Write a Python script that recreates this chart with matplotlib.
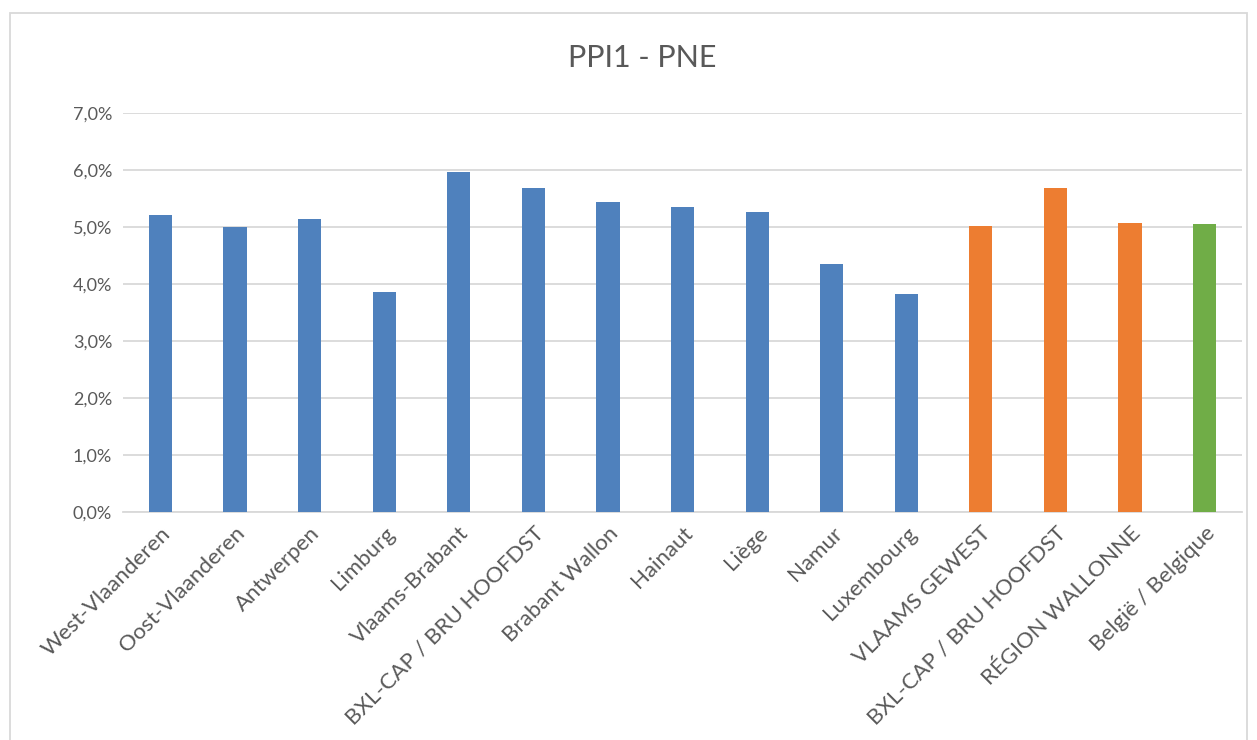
import numpy as np
import matplotlib.pyplot as plt
from matplotlib.patches import Rectangle
from matplotlib.ticker import FuncFormatter

plt.rcParams['font.family'] = ['Lato', 'DejaVu Sans']

# Data
regions = ['West-Vlaanderen', 'Oost-Vlaanderen', 'Antwerpen', 'Limburg',
           'Vlaams-Brabant', 'BXL-CAP / BRU HOOFDST', 'Brabant Wallon',
           'Hainaut', 'Liège', 'Namur', 'Luxembourg', 'VLAAMS GEWEST',
           'BXL-CAP / BRU HOOFDST', 'RÉGION WALLONNE', 'België / Belgique']
ppi = [5.22, 5.00, 5.14, 3.86, 5.96, 5.68, 5.44,
       5.36, 5.26, 4.35, 3.82, 5.02, 5.68, 5.07, 5.05]
level = ['prov'] * 11 + ['gewest'] * 3 + ['land']

colors = {'prov': '#4F81BD', 'gewest': '#ED7D31', 'land': '#70AD47'}
text_col = '#595959'

fig = plt.figure(figsize=(12.57, 7.4), dpi=100)
ax = fig.add_axes([0.098, 0.308, 0.890, 0.539])

x = np.arange(len(regions))
ax.bar(x, ppi, width=0.31, color=[colors[l] for l in level], zorder=3)

ax.set_xlim(-0.5, len(regions) - 0.5)
ax.set_ylim(0, 7)
ax.set_yticks(np.arange(0, 8, 1))
ax.yaxis.set_major_formatter(FuncFormatter(lambda v, p: f'{v:.1f}%'.replace('.', ',')))
ax.grid(axis='y', color='#D9D9D9', linewidth=1.3, zorder=0)
for s in ['top', 'right', 'left']:
    ax.spines[s].set_visible(False)
ax.spines['bottom'].set_color('#D9D9D9')
ax.spines['bottom'].set_linewidth(1.3)
ax.tick_params(axis='both', length=0, colors=text_col, pad=8)
ax.tick_params(axis='y', labelsize=13)
ax.tick_params(axis='x', labelsize=16)
ax.set_xticks(x)
ax.set_xticklabels(regions, rotation=45, ha='right', rotation_mode='anchor')

fig.text(0.511, 0.921, 'PPI1 - PNE', ha='center', va='center', fontsize=22, color=text_col)

# chart frame
fig.patches.append(Rectangle((10 / 1257, -0.1), 1237 / 1257, 1.1 - 13 / 740,
                             transform=fig.transFigure, fill=False,
                             edgecolor='#D9D9D9', linewidth=1.3))

fig.savefig('out.png', dpi=100)
